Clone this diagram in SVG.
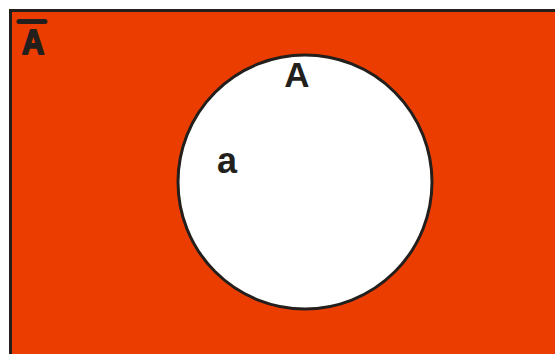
<svg xmlns="http://www.w3.org/2000/svg" width="555" height="354" viewBox="0 0 555 354">
<style>
.t{font-family:"Liberation Sans",Arial,sans-serif;font-weight:bold;fill:#231f1c}
</style>
<rect width="555" height="354" fill="#ffffff"/>
<g id="universe">
<rect x="10.5" y="10.5" width="560" height="360" fill="#eb3d00" stroke="#231f1c" stroke-width="3"/>
<line x1="19" y1="21.5" x2="45" y2="21.5" stroke="#231f1c" stroke-width="5" stroke-linecap="round"/>
<text class="t" transform="translate(33,54) scale(0.88,1)" font-size="35" text-anchor="middle" stroke="#231f1c" stroke-width="2" stroke-linejoin="round">A</text>
</g>
<g id="setA">
<circle cx="305" cy="182" r="127" fill="#ffffff" stroke="#231f1c" stroke-width="3"/>
<text class="t" x="297" y="87" font-size="35" text-anchor="middle">A</text>
<text class="t" x="227" y="173" font-size="36" text-anchor="middle">a</text>
</g>
</svg>
